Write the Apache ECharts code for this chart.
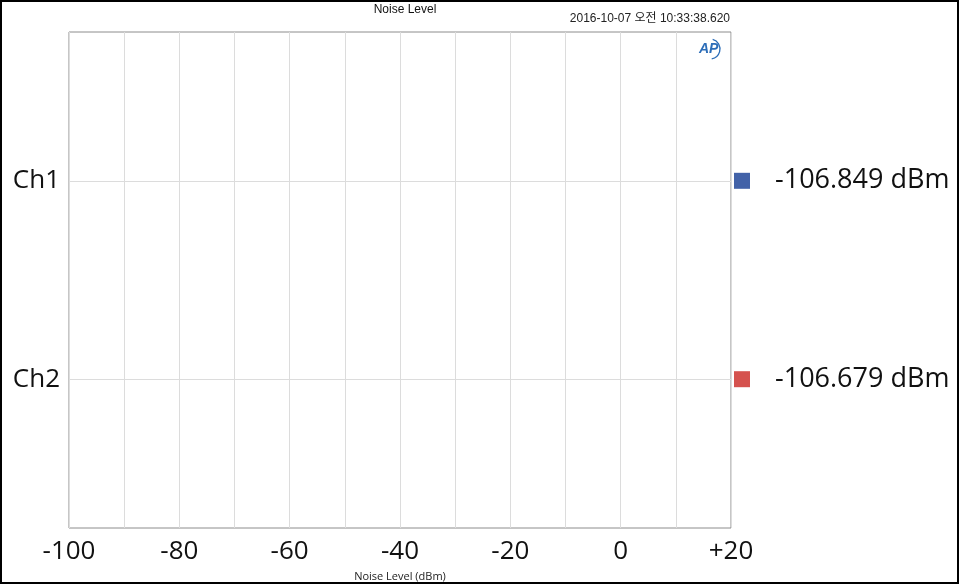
<!DOCTYPE html>
<html>
<head>
<meta charset="utf-8">
<script src="https://cdn.jsdelivr.net/npm/echarts@6/dist/echarts.min.js"></script>
<style>html,body{margin:0;padding:0;background:#fff}#c{width:960px;height:585px}</style>
</head>
<body>
<div id="c"></div>
<script>
var categories = ['Ch1', 'Ch2'];
var values = [-106.849, -106.679];
var colors = ['#4262A8', '#D5524E'];
var xTicks = [-100, -80, -60, -40, -20, 0, 20];
var titleText = 'Noise Level';
var timestamp = '2016-10-07 오전 10:33:38.620';
var axisName = 'Noise Level (dBm)';
var unit = 'dBm';

// category slots: 3 blank slots before each channel and after the last
var slots = [];
categories.forEach(function (c) { slots.push('', '', ''); slots.push(c); });
slots.push('', '', '');

var chart = echarts.init(document.getElementById('c'));
var font = '"Open Sans", "Noto Sans", sans-serif';
var rich = { v: { fontSize: 27, fontFamily: font, color: '#111', padding: [0, 0, 0, 25] } };
categories.forEach(function (c, i) {
  rich['s' + i] = { width: 16, height: 16, backgroundColor: colors[i] };
});

chart.setOption({
  animation: false,
  backgroundColor: '#fff',
  title: {
    text: titleText, left: 400, textAlign: 'center', top: -1,
    textStyle: { fontSize: 12, fontWeight: 'normal', color: '#111', fontFamily: '"Liberation Sans", Arial, sans-serif' }
  },
  graphic: [
    { type: 'rect', shape: { x: 1, y: 1, width: 957, height: 582 }, style: { fill: 'none', stroke: '#000', lineWidth: 2 }, silent: true },
    { type: 'text', right: 230, top: 13, style: { text: timestamp, fontSize: 12, fill: '#222', fontFamily: '"Liberation Sans", Arial, "Noto Sans CJK KR", sans-serif' } },
    { type: 'text', left: 699, top: 42, style: { text: 'AP', fontSize: 14, fontWeight: 'bold', fontStyle: 'italic', fill: '#2C6DB8', fontFamily: '"Liberation Sans", Arial, sans-serif' } },
    { type: 'arc', shape: { cx: 710, cy: 49, r: 10, startAngle: -1.3, endAngle: 1.4 }, style: { stroke: '#2C6DB8', lineWidth: 1.3, fill: 'none' } }
  ],
  grid: { left: 69, top: 32, width: 662, height: 496, outerBoundsMode: 'none', containLabel: false, show: true, borderColor: '#8c8c8c', borderWidth: 1, backgroundColor: '#fff' },
  xAxis: {
    type: 'value', min: xTicks[0], max: xTicks[xTicks.length - 1], interval: 20,
    axisLine: { show: false }, axisTick: { show: false },
    splitLine: { show: true, lineStyle: { color: '#dcdcdc', width: 1 } },
    minorTick: { show: false, splitNumber: 2 },
    minorSplitLine: { show: true, lineStyle: { color: '#dcdcdc', width: 1 } },
    axisLabel: {
      fontSize: 26, fontFamily: font, color: '#111', margin: 11,
      formatter: function (v) { return v > 0 ? '+' + v : String(v); }
    },
    name: axisName, nameLocation: 'middle', nameGap: 43,
    nameTextStyle: { fontSize: 11, fontFamily: font, color: '#222' }
  },
  yAxis: [{
    type: 'category', data: slots, inverse: true, boundaryGap: false,
    axisLine: { show: false }, axisTick: { show: false },
    axisLabel: { interval: function (i, v) { return v !== ''; }, fontSize: 26, fontFamily: font, color: '#111', margin: 9 },
    splitLine: { show: true, interval: function (i, v) { return v !== ''; }, lineStyle: { color: '#dcdcdc', width: 1 } }
  }, {
    type: 'category', data: slots, inverse: true, boundaryGap: false, position: 'right',
    axisLine: { show: false }, axisTick: { show: false }, splitLine: { show: false },
    axisLabel: {
      interval: function (i, v) { return v !== ''; }, margin: 3, align: 'left',
      formatter: function (v) {
        var i = categories.indexOf(v);
        if (i < 0) return '';
        return '{s' + i + '|}{v|' + values[i].toFixed(3) + ' ' + unit + '}';
      },
      rich: rich
    }
  }],
  series: [{
    type: 'scatter', clip: true, symbol: 'rect', symbolSize: 12,
    data: categories.map(function (c, i) {
      return { value: [values[i], slots.indexOf(c)], itemStyle: { color: colors[i] } };
    })
  }]
});
</script>
</body>
</html>
